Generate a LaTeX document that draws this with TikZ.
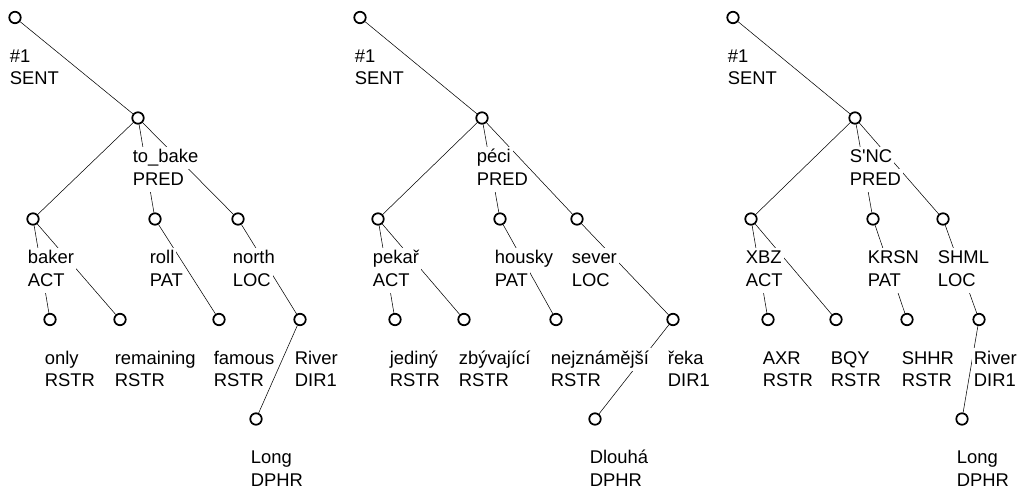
\documentclass[tikz,border=0pt]{standalone}
\usepackage{fontspec}
\setmainfont{Liberation Sans}

\pgfdeclarelayer{edges}
\pgfsetlayers{edges,main}

% word and functor, each line on its own white box
\newcommand{\lbltext}[2]{%
  {\fboxsep=0pt\colorbox{white}{\hspace{1.5pt}\strut#1\hspace{1.5pt}}}\\%
  {\fboxsep=0pt\colorbox{white}{\hspace{1.5pt}\strut#2\hspace{1.5pt}}}}

\tikzset{
  tnode/.style={draw, circle, fill=white, minimum size=8.6pt, inner sep=0pt},
  tlbl/.style={anchor=north west, align=left, inner sep=0pt, xshift=-6pt, yshift=-16pt,
    font=\fontsize{13.8}{17}\selectfont}
}

\begin{document}
\begin{tikzpicture}[x=0.75pt, y=-0.75pt, line width=1.3pt]
\useasboundingbox (0,0) rectangle (1019,491);

% English tree
\node[tnode, label={[tlbl]below:\lbltext{\#1}{SENT}}] (G1N0) at (15,17.5) {};
\node[tnode, label={[tlbl]below:\lbltext{to\_bake}{PRED}}] (G1N1) at (138,118) {};
\node[tnode, label={[tlbl]below:\lbltext{baker}{ACT}}] (G1N2) at (33,219) {};
\node[tnode, label={[tlbl]below:\lbltext{roll}{PAT}}] (G1N3) at (155,219) {};
\node[tnode, label={[tlbl]below:\lbltext{north}{LOC}}] (G1N4) at (238,219) {};
\node[tnode, label={[tlbl]below:\lbltext{only}{RSTR}}] (G1N5) at (50,319.5) {};
\node[tnode, label={[tlbl]below:\lbltext{remaining}{RSTR}}] (G1N6) at (120,319.5) {};
\node[tnode, label={[tlbl]below:\lbltext{famous}{RSTR}}] (G1N7) at (219,319.5) {};
\node[tnode, label={[tlbl]below:\lbltext{River}{DIR1}}] (G1N8) at (300,319.5) {};
\node[tnode, label={[tlbl]below:\lbltext{Long}{DPHR}}] (G1N9) at (256,419) {};

% Czech tree
\node[tnode, label={[tlbl]below:\lbltext{\#1}{SENT}}] (G2N0) at (360,17.5) {};
\node[tnode, label={[tlbl]below:\lbltext{péci}{PRED}}] (G2N1) at (482,118) {};
\node[tnode, label={[tlbl]below:\lbltext{pekař}{ACT}}] (G2N2) at (378,219) {};
\node[tnode, label={[tlbl]below:\lbltext{housky}{PAT}}] (G2N3) at (500,219) {};
\node[tnode, label={[tlbl]below:\lbltext{sever}{LOC}}] (G2N4) at (577,219) {};
\node[tnode, label={[tlbl]below:\lbltext{jediný}{RSTR}}] (G2N5) at (395,319.5) {};
\node[tnode, label={[tlbl]below:\lbltext{zbývající}{RSTR}}] (G2N6) at (464,319.5) {};
\node[tnode, label={[tlbl]below:\lbltext{nejznámější}{RSTR}}] (G2N7) at (556,319.5) {};
\node[tnode, label={[tlbl]below:\lbltext{řeka}{DIR1}}] (G2N8) at (673,319.5) {};
\node[tnode, label={[tlbl]below:\lbltext{Dlouhá}{DPHR}}] (G2N9) at (595,419) {};

% coded tree
\node[tnode, label={[tlbl]below:\lbltext{\#1}{SENT}}] (G3N0) at (733,17.5) {};
\node[tnode, label={[tlbl]below:\lbltext{S\textquotesingle NC}{PRED}}] (G3N1) at (855,118) {};
\node[tnode, label={[tlbl]below:\lbltext{XBZ}{ACT}}] (G3N2) at (751,219) {};
\node[tnode, label={[tlbl]below:\lbltext{KRSN}{PAT}}] (G3N3) at (873,219) {};
\node[tnode, label={[tlbl]below:\lbltext{SHML}{LOC}}] (G3N4) at (943,219) {};
\node[tnode, label={[tlbl]below:\lbltext{AXR}{RSTR}}] (G3N5) at (768,319.5) {};
\node[tnode, label={[tlbl]below:\lbltext{BQY}{RSTR}}] (G3N6) at (836,319.5) {};
\node[tnode, label={[tlbl]below:\lbltext{SHHR}{RSTR}}] (G3N7) at (907,319.5) {};
\node[tnode, label={[tlbl]below:\lbltext{River}{DIR1}}] (G3N8) at (979,319.5) {};
\node[tnode, label={[tlbl]below:\lbltext{Long}{DPHR}}] (G3N9) at (962,419) {};

\begin{pgfonlayer}{edges}
\foreach \g in {1,2,3} {
  \draw (G\g N0) -- (G\g N1);
  \draw (G\g N1) -- (G\g N2);
  \draw (G\g N1) -- (G\g N3);
  \draw (G\g N1) -- (G\g N4);
  \draw (G\g N2) -- (G\g N5);
  \draw (G\g N2) -- (G\g N6);
  \draw (G\g N3) -- (G\g N7);
  \draw (G\g N4) -- (G\g N8);
  \draw (G\g N8) -- (G\g N9);
}
\end{pgfonlayer}
\end{tikzpicture}
\end{document}
